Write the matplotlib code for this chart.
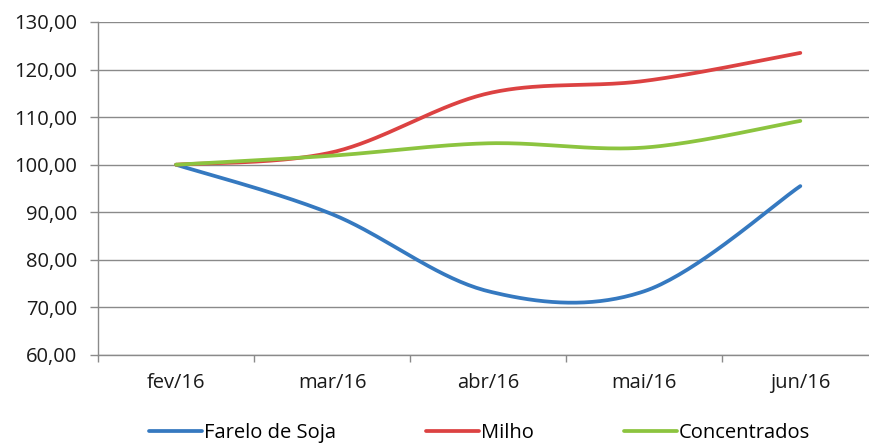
import numpy as np
import matplotlib
matplotlib.use('Agg')
import matplotlib.pyplot as plt
from matplotlib.ticker import FuncFormatter, FixedLocator

meses = ['fev/16', 'mar/16', 'abr/16', 'mai/16', 'jun/16']
farelo_soja = [100.0, 89.6, 73.4, 73.4, 95.5]
milho = [100.0, 102.6, 115.0, 117.6, 123.5]
concentrados = [100.0, 101.9, 104.5, 103.6, 109.2]

series = [('Farelo de Soja', farelo_soja, '#3579c0'),
          ('Milho', milho, '#dc4242'),
          ('Concentrados', concentrados, '#8cc43f')]


def suaviza(y, n=40):
    # curva suavizada (bezier cardinal, como no Excel)
    y = np.asarray(y, dtype=float)
    x = np.arange(len(y), dtype=float)
    pts = np.column_stack([x, y])
    out = []
    for i in range(len(pts) - 1):
        p0 = pts[max(i - 1, 0)]
        p1 = pts[i]
        p2 = pts[i + 1]
        p3 = pts[min(i + 2, len(pts) - 1)]
        c1 = p1 + (p2 - p0) / 6
        c2 = p2 - (p3 - p1) / 6
        t = np.linspace(0, 1, n)[:, None]
        seg = ((1 - t) ** 3 * p1 + 3 * (1 - t) ** 2 * t * c1
               + 3 * (1 - t) * t ** 2 * c2 + t ** 3 * p2)
        out.append(seg if i == 0 else seg[1:])
    seg = np.vstack(out)
    return seg[:, 0], seg[:, 1]


plt.rcParams['font.family'] = ['Open Sans', 'DejaVu Sans']
fs = 14.5

fig = plt.figure(figsize=(8.69, 4.44), dpi=100)
ax = fig.add_axes([0.1128, 0.2005, 0.8872, 0.75])

for nome, vals, cor in series:
    xs, ys = suaviza(vals)
    ax.plot(xs, ys, color=cor, lw=2.7, label=nome, solid_capstyle='round')

ax.set_ylim(60, 130)
ax.set_xlim(-0.5, 4.44)
ax.set_yticks(np.arange(60, 131, 10))
ax.yaxis.set_major_formatter(FuncFormatter(lambda v, p: f'{v:.2f}'.replace('.', ',')))
ax.yaxis.grid(True, color='#8a8a8a', lw=1.0)
ax.set_axisbelow(True)

ax.set_xticks(range(len(meses)))
ax.set_xticklabels(meses)
ax.xaxis.set_minor_locator(FixedLocator(np.arange(-0.5, 4.5, 1.0)))
ax.tick_params(axis='x', which='major', length=0, pad=13, labelsize=fs,
               colors='#1a1a1a')
ax.tick_params(axis='x', which='minor', length=5, color='#8a8a8a', width=1)
ax.tick_params(axis='y', length=6, color='#8a8a8a', width=1, labelsize=fs,
               labelcolor='#1a1a1a', pad=9)

for s in ['top', 'right']:
    ax.spines[s].set_visible(False)
for s in ['left', 'bottom']:
    ax.spines[s].set_color('#8a8a8a')
    ax.spines[s].set_linewidth(1.0)

fig.legend(loc='center', bbox_to_anchor=(0.552, 0.025), ncol=3,
           frameon=False, fontsize=fs, handlelength=2.6, handletextpad=0.1,
           columnspacing=4.5, borderpad=0)

fig.savefig('out.png', dpi=100)
